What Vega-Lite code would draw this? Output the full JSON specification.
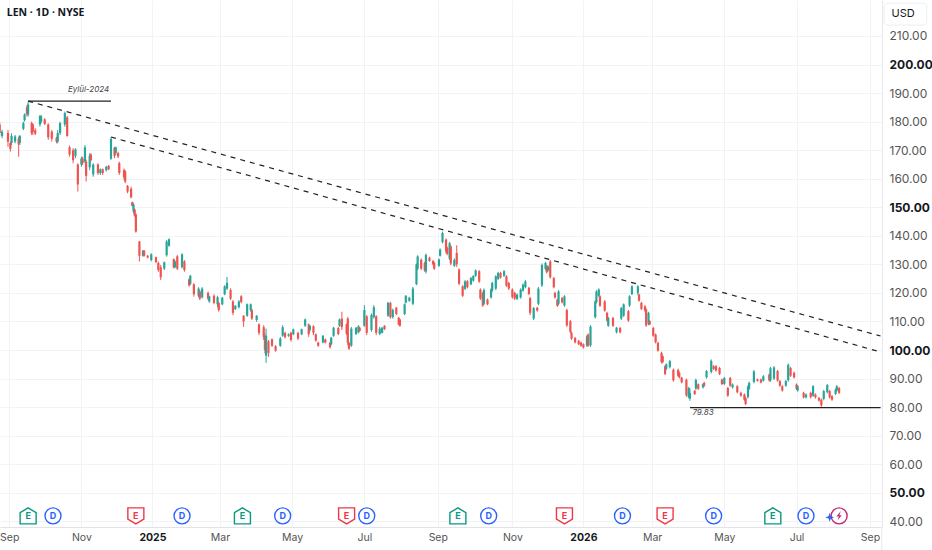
{"$schema":"https://vega.github.io/schema/vega-lite/v6.json","width":882,"height":527,"autosize":"none","padding":{"left":0,"top":0,"right":50,"bottom":23},"background":"white","view":{"stroke":null},
"config":{"font":"Inter"},
"datasets":{
"candles":[
{"d":"2024-08-27","o":179,"h":180,"l":174.7,"c":176},
{"d":"2024-08-29","o":175,"h":177.1,"l":174.2,"c":176.5},
{"d":"2024-09-03","o":176,"h":177.1,"l":171.2,"c":173},
{"d":"2024-09-05","o":172.5,"h":173,"l":169.5,"c":170.5},
{"d":"2024-09-06","o":172.5,"h":175.9,"l":171.8,"c":175},
{"d":"2024-09-09","o":173,"h":175.3,"l":172.4,"c":174.8},
{"d":"2024-09-12","o":174,"h":174.7,"l":167.7,"c":172},
{"d":"2024-09-13","o":172.5,"h":175.3,"l":171.8,"c":175},
{"d":"2024-09-16","o":177.5,"h":180,"l":177,"c":179.5},
{"d":"2024-09-17","o":180.5,"h":182.9,"l":180,"c":182.5},
{"d":"2024-09-19","o":185,"h":185.8,"l":181.8,"c":182.5},
{"d":"2024-09-20","o":182.5,"h":187,"l":181.8,"c":186},
{"d":"2024-09-23","o":179.5,"h":180,"l":175.3,"c":176},
{"d":"2024-09-24","o":179,"h":179.4,"l":175.3,"c":176.5},
{"d":"2024-09-26","o":177,"h":177.7,"l":175.3,"c":175.8},
{"d":"2024-09-30","o":179,"h":182.3,"l":178.2,"c":182},
{"d":"2024-10-01","o":180,"h":182.3,"l":179.4,"c":181.8},
{"d":"2024-10-04","o":180.8,"h":181.2,"l":178.8,"c":179.2},
{"d":"2024-10-07","o":179,"h":179.4,"l":173.6,"c":174.5},
{"d":"2024-10-10","o":176.5,"h":177.1,"l":173,"c":174},
{"d":"2024-10-14","o":174.3,"h":174.7,"l":172.4,"c":173},
{"d":"2024-10-15","o":173,"h":177.1,"l":172.4,"c":176},
{"d":"2024-10-17","o":176,"h":180,"l":175.3,"c":179.5},
{"d":"2024-10-21","o":179,"h":183.5,"l":178.2,"c":183},
{"d":"2024-10-23","o":181.5,"h":182,"l":174.7,"c":175},
{"d":"2024-10-25","o":171,"h":171.6,"l":167.7,"c":168.5},
{"d":"2024-10-28","o":170,"h":170.7,"l":165.4,"c":166.5},
{"d":"2024-10-30","o":168,"h":170.7,"l":167.2,"c":170.3},
{"d":"2024-11-01","o":165,"h":165.4,"l":155.5,"c":158},
{"d":"2024-11-04","o":165,"h":167.7,"l":164.2,"c":167},
{"d":"2024-11-05","o":167,"h":167.7,"l":164.8,"c":165.5},
{"d":"2024-11-07","o":166,"h":171.8,"l":165.4,"c":171},
{"d":"2024-11-08","o":166,"h":166.6,"l":159,"c":161},
{"d":"2024-11-11","o":164,"h":168.9,"l":163,"c":168},
{"d":"2024-11-12","o":168.5,"h":168.9,"l":166,"c":166.5},
{"d":"2024-11-14","o":161.5,"h":165.4,"l":160.7,"c":165},
{"d":"2024-11-18","o":165,"h":165.4,"l":161.3,"c":162},
{"d":"2024-11-20","o":162,"h":163.6,"l":161.3,"c":163.3},
{"d":"2024-11-22","o":163.3,"h":163.6,"l":161.3,"c":162},
{"d":"2024-11-25","o":163,"h":164.5,"l":162.5,"c":164.2},
{"d":"2024-11-27","o":164.5,"h":164.8,"l":163,"c":163.3},
{"d":"2024-11-29","o":167,"h":174.5,"l":166.6,"c":174},
{"d":"2024-12-02","o":170.8,"h":171.2,"l":167.2,"c":168},
{"d":"2024-12-03","o":169,"h":171.2,"l":168.3,"c":171},
{"d":"2024-12-05","o":169,"h":169.5,"l":167.2,"c":167.8},
{"d":"2024-12-06","o":165.5,"h":166,"l":161.3,"c":162},
{"d":"2024-12-10","o":163,"h":163.6,"l":159.6,"c":160.5},
{"d":"2024-12-11","o":162.5,"h":163,"l":158.4,"c":159},
{"d":"2024-12-13","o":157.5,"h":157.8,"l":154.9,"c":155.5},
{"d":"2024-12-16","o":156.5,"h":157.2,"l":153.1,"c":153.5},
{"d":"2024-12-17","o":151.8,"h":152,"l":150.2,"c":150.5},
{"d":"2024-12-18","o":148.5,"h":151.4,"l":147.9,"c":151},
{"d":"2024-12-19","o":149.2,"h":149.6,"l":146.7,"c":147},
{"d":"2024-12-20","o":147.5,"h":147.9,"l":141.1,"c":141.5},
{"d":"2024-12-23","o":138,"h":138.2,"l":131,"c":133},
{"d":"2024-12-26","o":133,"h":135,"l":132.7,"c":134.8},
{"d":"2024-12-27","o":134.8,"h":135,"l":132.7,"c":133},
{"d":"2024-12-30","o":133,"h":133.3,"l":132.1,"c":132.4},
{"d":"2025-01-02","o":131.5,"h":133.9,"l":131,"c":133.5},
{"d":"2025-01-06","o":132.5,"h":132.7,"l":130.4,"c":130.8},
{"d":"2025-01-08","o":130.5,"h":131,"l":127.4,"c":128},
{"d":"2025-01-10","o":129,"h":129.8,"l":124.5,"c":125.5},
{"d":"2025-01-13","o":128.5,"h":131,"l":128,"c":130.7},
{"d":"2025-01-15","o":133.2,"h":138.5,"l":132.7,"c":138},
{"d":"2025-01-17","o":136.5,"h":139.1,"l":136.2,"c":138.8},
{"d":"2025-01-21","o":131.8,"h":132.1,"l":128.6,"c":129},
{"d":"2025-01-22","o":129,"h":131.5,"l":128.6,"c":131},
{"d":"2025-01-24","o":132.8,"h":133.3,"l":128,"c":128.5},
{"d":"2025-01-28","o":129,"h":133.9,"l":128.6,"c":133.5},
{"d":"2025-01-30","o":131,"h":131.5,"l":127.4,"c":128},
{"d":"2025-02-03","o":124.8,"h":125.1,"l":122.2,"c":122.6},
{"d":"2025-02-04","o":123.2,"h":126.3,"l":122.8,"c":126},
{"d":"2025-02-07","o":123,"h":123.4,"l":118.7,"c":119.5},
{"d":"2025-02-11","o":119,"h":122,"l":118.5,"c":121.5},
{"d":"2025-02-12","o":120.5,"h":121,"l":117.5,"c":118},
{"d":"2025-02-14","o":118.5,"h":122,"l":118,"c":121.5},
{"d":"2025-02-19","o":120,"h":120.5,"l":117.5,"c":118},
{"d":"2025-02-20","o":117,"h":119,"l":116.5,"c":118.8},
{"d":"2025-02-24","o":119,"h":119.5,"l":116,"c":116.5},
{"d":"2025-02-27","o":116,"h":119,"l":115,"c":118.5},
{"d":"2025-02-28","o":116.5,"h":116.9,"l":113.4,"c":114},
{"d":"2025-03-03","o":116,"h":118.6,"l":115.7,"c":118.3},
{"d":"2025-03-05","o":119.5,"h":122.7,"l":119.2,"c":122.3},
{"d":"2025-03-07","o":121.5,"h":125.6,"l":121,"c":123.5},
{"d":"2025-03-10","o":121,"h":121.6,"l":117.5,"c":118},
{"d":"2025-03-12","o":117,"h":117.5,"l":112.2,"c":113},
{"d":"2025-03-14","o":114.3,"h":115.7,"l":114,"c":115.5},
{"d":"2025-03-17","o":115,"h":117.5,"l":114.5,"c":117},
{"d":"2025-03-19","o":118.8,"h":119.2,"l":116.3,"c":116.8},
{"d":"2025-03-21","o":112,"h":112.2,"l":108.1,"c":110},
{"d":"2025-03-24","o":112,"h":116.3,"l":111.6,"c":116},
{"d":"2025-03-27","o":114,"h":116.3,"l":113.4,"c":116},
{"d":"2025-03-28","o":114,"h":114.5,"l":110.5,"c":111},
{"d":"2025-04-01","o":110.5,"h":112.2,"l":109.9,"c":112},
{"d":"2025-04-03","o":109,"h":109.3,"l":105.2,"c":106},
{"d":"2025-04-07","o":108,"h":108.7,"l":103.5,"c":104.5},
{"d":"2025-04-08","o":105,"h":105.8,"l":98.8,"c":100},
{"d":"2025-04-09","o":98,"h":107.5,"l":95.5,"c":105},
{"d":"2025-04-11","o":103,"h":103.5,"l":97.6,"c":99},
{"d":"2025-04-14","o":103.8,"h":104,"l":101.1,"c":101.5},
{"d":"2025-04-17","o":101.3,"h":101.7,"l":99.4,"c":99.8},
{"d":"2025-04-21","o":101.5,"h":104.6,"l":101.1,"c":104},
{"d":"2025-04-23","o":105,"h":108.7,"l":104.6,"c":108},
{"d":"2025-04-25","o":106,"h":106.4,"l":104,"c":104.5},
{"d":"2025-04-28","o":105,"h":105.8,"l":104.6,"c":105.5},
{"d":"2025-04-30","o":106,"h":106.4,"l":102.9,"c":103.5},
{"d":"2025-05-02","o":105.5,"h":107.5,"l":105.2,"c":107.2},
{"d":"2025-05-06","o":106,"h":106.4,"l":103.5,"c":104},
{"d":"2025-05-09","o":105.5,"h":107.5,"l":105.2,"c":107.3},
{"d":"2025-05-12","o":108.5,"h":111,"l":108.1,"c":110.7},
{"d":"2025-05-15","o":109,"h":109.3,"l":104.6,"c":105.5},
{"d":"2025-05-16","o":107,"h":108.7,"l":106.4,"c":108.5},
{"d":"2025-05-19","o":108.3,"h":108.7,"l":105.2,"c":106},
{"d":"2025-05-21","o":105.5,"h":105.8,"l":102.9,"c":103.3},
{"d":"2025-05-23","o":102.6,"h":102.9,"l":101.1,"c":101.5},
{"d":"2025-05-27","o":102.7,"h":105.2,"l":102.3,"c":105},
{"d":"2025-05-29","o":103.7,"h":104,"l":102.3,"c":102.6},
{"d":"2025-06-02","o":102.5,"h":102.9,"l":100.5,"c":101},
{"d":"2025-06-03","o":102,"h":104.6,"l":101.7,"c":104.3},
{"d":"2025-06-05","o":105,"h":108.1,"l":104.6,"c":107.8},
{"d":"2025-06-09","o":107.7,"h":108.1,"l":105.2,"c":105.6},
{"d":"2025-06-10","o":108.5,"h":111,"l":108.1,"c":110.7},
{"d":"2025-06-12","o":111,"h":113.4,"l":107,"c":108},
{"d":"2025-06-16","o":109,"h":109.3,"l":105.2,"c":105.7},
{"d":"2025-06-17","o":111,"h":111.6,"l":101.7,"c":102.5},
{"d":"2025-06-18","o":102.5,"h":102.9,"l":100,"c":100.5},
{"d":"2025-06-20","o":101.5,"h":108.1,"l":101.1,"c":107.5},
{"d":"2025-06-24","o":105.6,"h":108.1,"l":105.2,"c":107.8},
{"d":"2025-06-26","o":106.2,"h":108.7,"l":105.8,"c":108.3},
{"d":"2025-06-27","o":107.8,"h":108.1,"l":106.4,"c":106.7},
{"d":"2025-07-01","o":108.5,"h":115.7,"l":108.1,"c":114},
{"d":"2025-07-03","o":111.8,"h":112.2,"l":105.2,"c":106},
{"d":"2025-07-07","o":107,"h":112.8,"l":106.4,"c":112.3},
{"d":"2025-07-09","o":111.5,"h":115.7,"l":111,"c":115},
{"d":"2025-07-11","o":111.8,"h":112.2,"l":105.2,"c":106},
{"d":"2025-07-14","o":105.6,"h":108.1,"l":105.2,"c":107.5},
{"d":"2025-07-16","o":106,"h":108.1,"l":105.8,"c":107.8},
{"d":"2025-07-18","o":108.5,"h":108.7,"l":107,"c":107.3},
{"d":"2025-07-21","o":112,"h":116.9,"l":111.6,"c":116.5},
{"d":"2025-07-23","o":116.5,"h":116.9,"l":111,"c":111.5},
{"d":"2025-07-25","o":111.5,"h":114.5,"l":111,"c":114},
{"d":"2025-07-28","o":114.8,"h":115.1,"l":112.2,"c":112.6},
{"d":"2025-07-30","o":111.3,"h":111.6,"l":108.7,"c":109},
{"d":"2025-07-31","o":110.7,"h":111,"l":108.1,"c":108.5},
{"d":"2025-08-04","o":112.6,"h":116.3,"l":112.2,"c":116},
{"d":"2025-08-05","o":116.6,"h":119.2,"l":116.3,"c":119},
{"d":"2025-08-08","o":117.2,"h":118.6,"l":116.9,"c":118.3},
{"d":"2025-08-11","o":116.2,"h":122.1,"l":115.7,"c":121.5},
{"d":"2025-08-14","o":123,"h":130.3,"l":122.7,"c":130},
{"d":"2025-08-15","o":128.5,"h":133.2,"l":128,"c":132.8},
{"d":"2025-08-18","o":131.6,"h":132.1,"l":128,"c":128.5},
{"d":"2025-08-21","o":130.5,"h":130.9,"l":127.4,"c":127.8},
{"d":"2025-08-22","o":127.5,"h":133.8,"l":126.8,"c":133.3},
{"d":"2025-08-25","o":132.3,"h":132.7,"l":130.9,"c":131.2},
{"d":"2025-08-28","o":131.2,"h":131.5,"l":129.7,"c":130},
{"d":"2025-08-29","o":130.5,"h":130.9,"l":128,"c":128.5},
{"d":"2025-09-02","o":129.5,"h":132.1,"l":129.1,"c":131.7},
{"d":"2025-09-03","o":133,"h":135.6,"l":132.7,"c":135.2},
{"d":"2025-09-05","o":137.8,"h":141.4,"l":137.3,"c":141},
{"d":"2025-09-08","o":138.7,"h":139.1,"l":133.8,"c":134.5},
{"d":"2025-09-09","o":135.8,"h":136.2,"l":133.2,"c":133.7},
{"d":"2025-09-11","o":132,"h":137.9,"l":131.5,"c":137.4},
{"d":"2025-09-12","o":136.3,"h":136.7,"l":129.7,"c":130.3},
{"d":"2025-09-15","o":129.5,"h":132.1,"l":129.1,"c":131.6},
{"d":"2025-09-17","o":134,"h":136.7,"l":129.1,"c":130},
{"d":"2025-09-19","o":128.2,"h":128.6,"l":122.7,"c":123.2},
{"d":"2025-09-22","o":122.3,"h":122.7,"l":118.6,"c":119},
{"d":"2025-09-24","o":121.4,"h":124.5,"l":121,"c":124},
{"d":"2025-09-26","o":124.1,"h":124.5,"l":121.6,"c":122},
{"d":"2025-09-29","o":123,"h":125.6,"l":122.7,"c":125.2},
{"d":"2025-10-01","o":124.3,"h":126.2,"l":123.9,"c":125.9},
{"d":"2025-10-03","o":126,"h":128.2,"l":125.6,"c":127.9},
{"d":"2025-10-06","o":127.6,"h":128,"l":123.5,"c":124},
{"d":"2025-10-07","o":121.2,"h":121.6,"l":117.5,"c":118},
{"d":"2025-10-09","o":120,"h":120.4,"l":115.1,"c":115.6},
{"d":"2025-10-10","o":116.2,"h":121.6,"l":115.7,"c":121},
{"d":"2025-10-13","o":117.7,"h":118,"l":115.7,"c":116},
{"d":"2025-10-16","o":118.4,"h":121.6,"l":118,"c":121.2},
{"d":"2025-10-17","o":120.8,"h":123.9,"l":120.4,"c":123.5},
{"d":"2025-10-20","o":121.5,"h":126.2,"l":121,"c":125.8},
{"d":"2025-10-22","o":124.9,"h":127.4,"l":124.5,"c":127},
{"d":"2025-10-24","o":127,"h":127.4,"l":125,"c":125.4},
{"d":"2025-10-27","o":126,"h":128,"l":125.6,"c":127.6},
{"d":"2025-10-29","o":125.8,"h":126.2,"l":122.1,"c":122.5},
{"d":"2025-10-31","o":123.5,"h":123.9,"l":121,"c":121.5},
{"d":"2025-11-03","o":121.2,"h":121.6,"l":118,"c":118.5},
{"d":"2025-11-05","o":120,"h":120.4,"l":117.5,"c":118},
{"d":"2025-11-07","o":117.9,"h":119.8,"l":117.5,"c":119.4},
{"d":"2025-11-10","o":118.4,"h":121.6,"l":118,"c":121.2},
{"d":"2025-11-12","o":120.8,"h":123.3,"l":120.4,"c":122.9},
{"d":"2025-11-14","o":122,"h":124.5,"l":121.6,"c":124},
{"d":"2025-11-17","o":121.8,"h":122.1,"l":119.2,"c":119.6},
{"d":"2025-11-18","o":118.2,"h":118.6,"l":112.2,"c":113},
{"d":"2025-11-21","o":111,"h":115.1,"l":110.5,"c":114.7},
{"d":"2025-11-24","o":114.8,"h":115.1,"l":113.4,"c":113.8},
{"d":"2025-11-25","o":116.2,"h":122.1,"l":115.7,"c":121.5},
{"d":"2025-11-28","o":122.6,"h":130.3,"l":122.1,"c":129.8},
{"d":"2025-12-01","o":128.4,"h":130.9,"l":128,"c":130.5},
{"d":"2025-12-02","o":129.3,"h":129.7,"l":126.8,"c":127.2},
{"d":"2025-12-03","o":127.8,"h":129.7,"l":127.4,"c":129.3},
{"d":"2025-12-05","o":131,"h":131.5,"l":125,"c":125.5},
{"d":"2025-12-08","o":125.2,"h":125.6,"l":121.6,"c":122},
{"d":"2025-12-09","o":120,"h":120.4,"l":118,"c":118.4},
{"d":"2025-12-11","o":117.6,"h":118,"l":115.1,"c":115.5},
{"d":"2025-12-12","o":116.2,"h":121,"l":115.7,"c":120.5},
{"d":"2025-12-15","o":118.2,"h":118.6,"l":116.3,"c":116.7},
{"d":"2025-12-17","o":115.6,"h":119.2,"l":115.1,"c":118.8},
{"d":"2025-12-19","o":114,"h":114.5,"l":108.1,"c":108.6},
{"d":"2025-12-22","o":110,"h":110.5,"l":105.8,"c":106.3},
{"d":"2025-12-23","o":106,"h":106.4,"l":103.5,"c":104},
{"d":"2025-12-26","o":104.2,"h":104.6,"l":102.3,"c":102.7},
{"d":"2025-12-29","o":103.2,"h":103.5,"l":101.7,"c":102},
{"d":"2025-12-31","o":102.6,"h":102.9,"l":101.1,"c":101.5},
{"d":"2026-01-02","o":102,"h":102.3,"l":100.5,"c":100.9},
{"d":"2026-01-05","o":101.5,"h":105.2,"l":101.1,"c":104.8},
{"d":"2026-01-06","o":105.4,"h":105.8,"l":101.1,"c":101.5},
{"d":"2026-01-08","o":101.6,"h":108.7,"l":101.1,"c":108.2},
{"d":"2026-01-12","o":111.5,"h":117.5,"l":111,"c":117},
{"d":"2026-01-13","o":116.8,"h":121,"l":116.3,"c":120.5},
{"d":"2026-01-15","o":119,"h":121.6,"l":118.6,"c":121.2},
{"d":"2026-01-16","o":118.8,"h":119.2,"l":115.1,"c":115.5},
{"d":"2026-01-20","o":117,"h":117.5,"l":113.4,"c":113.8},
{"d":"2026-01-22","o":113,"h":113.4,"l":109.9,"c":110.3},
{"d":"2026-01-23","o":108.5,"h":111.6,"l":108.1,"c":111.2},
{"d":"2026-01-27","o":111.2,"h":111.6,"l":108.1,"c":108.5},
{"d":"2026-01-30","o":106.2,"h":108.1,"l":105.8,"c":107.8},
{"d":"2026-02-02","o":107.7,"h":108.1,"l":105.8,"c":106.2},
{"d":"2026-02-03","o":111,"h":115.1,"l":110.5,"c":114.7},
{"d":"2026-02-05","o":112,"h":116.3,"l":111.6,"c":116},
{"d":"2026-02-09","o":113.6,"h":114,"l":109.9,"c":110.3},
{"d":"2026-02-10","o":115.6,"h":119.2,"l":115.1,"c":118.8},
{"d":"2026-02-12","o":119.6,"h":122.7,"l":119.2,"c":122.3},
{"d":"2026-02-17","o":120,"h":122.7,"l":119.2,"c":122.3},
{"d":"2026-02-18","o":119.4,"h":119.8,"l":116.9,"c":117.3},
{"d":"2026-02-20","o":116.5,"h":116.9,"l":114,"c":114.4},
{"d":"2026-02-23","o":115.3,"h":115.7,"l":113.4,"c":113.8},
{"d":"2026-02-24","o":114.2,"h":114.6,"l":108.1,"c":108.6},
{"d":"2026-02-26","o":109.2,"h":113.4,"l":108.7,"c":113},
{"d":"2026-02-27","o":110.1,"h":110.5,"l":108.7,"c":109},
{"d":"2026-03-02","o":107.7,"h":108.1,"l":104.6,"c":105},
{"d":"2026-03-04","o":105.4,"h":105.8,"l":102.3,"c":102.7},
{"d":"2026-03-06","o":102.5,"h":102.9,"l":99.4,"c":99.8},
{"d":"2026-03-09","o":99,"h":99.4,"l":95.3,"c":95.8},
{"d":"2026-03-10","o":97.8,"h":98.2,"l":95.3,"c":95.8},
{"d":"2026-03-12","o":94.3,"h":94.7,"l":91.2,"c":91.6},
{"d":"2026-03-13","o":93.4,"h":95.3,"l":93,"c":95},
{"d":"2026-03-16","o":94,"h":96.5,"l":93.5,"c":96.1},
{"d":"2026-03-19","o":93.1,"h":93.5,"l":88.9,"c":89.4},
{"d":"2026-03-23","o":93,"h":93.5,"l":90.6,"c":91},
{"d":"2026-03-24","o":92,"h":92.4,"l":90,"c":90.4},
{"d":"2026-03-26","o":90.3,"h":90.6,"l":88.3,"c":88.7},
{"d":"2026-03-30","o":89.6,"h":90,"l":83.6,"c":84.1},
{"d":"2026-04-01","o":83.5,"h":87.1,"l":83,"c":86.7},
{"d":"2026-04-02","o":83,"h":86.5,"l":82.2,"c":85},
{"d":"2026-04-06","o":85.7,"h":86,"l":84.2,"c":84.6},
{"d":"2026-04-07","o":86.5,"h":90,"l":86,"c":89.5},
{"d":"2026-04-09","o":88,"h":88.3,"l":86,"c":86.4},
{"d":"2026-04-13","o":86.9,"h":88.3,"l":86.5,"c":88},
{"d":"2026-04-14","o":88.5,"h":88.9,"l":87.1,"c":87.5},
{"d":"2026-04-16","o":90.4,"h":93,"l":90,"c":92.6},
{"d":"2026-04-20","o":92.3,"h":96.7,"l":91.8,"c":96.2},
{"d":"2026-04-22","o":94.3,"h":94.7,"l":93,"c":93.4},
{"d":"2026-04-24","o":94.3,"h":94.7,"l":92.4,"c":92.8},
{"d":"2026-04-27","o":93.7,"h":94.1,"l":91.2,"c":91.6},
{"d":"2026-04-29","o":89.6,"h":90,"l":87.7,"c":88.1},
{"d":"2026-05-01","o":88.1,"h":90.6,"l":87.7,"c":90.2},
{"d":"2026-05-04","o":86.7,"h":87.1,"l":83.6,"c":84},
{"d":"2026-05-06","o":90.2,"h":90.6,"l":87.1,"c":87.5},
{"d":"2026-05-08","o":86.9,"h":88.3,"l":86.5,"c":87.9},
{"d":"2026-05-12","o":87.3,"h":87.7,"l":84.8,"c":85.2},
{"d":"2026-05-15","o":85,"h":85.4,"l":83.6,"c":84},
{"d":"2026-05-18","o":84.4,"h":84.8,"l":82.2,"c":82.6},
{"d":"2026-05-19","o":83.2,"h":83.6,"l":80.7,"c":81.1},
{"d":"2026-05-21","o":83.5,"h":87.7,"l":83,"c":87.2},
{"d":"2026-05-22","o":86.4,"h":88.9,"l":86,"c":88.5},
{"d":"2026-05-26","o":88.8,"h":93,"l":88.3,"c":92.5},
{"d":"2026-05-29","o":89.7,"h":90,"l":88.9,"c":89.2},
{"d":"2026-06-01","o":89.7,"h":90,"l":88.3,"c":88.6},
{"d":"2026-06-03","o":89.3,"h":91.2,"l":88.9,"c":90.8},
{"d":"2026-06-08","o":91.4,"h":91.8,"l":88.9,"c":89.3},
{"d":"2026-06-09","o":89.4,"h":94.1,"l":88.9,"c":93.6},
{"d":"2026-06-12","o":90,"h":94.4,"l":89.5,"c":93.9},
{"d":"2026-06-15","o":92.6,"h":93,"l":88.9,"c":89.3},
{"d":"2026-06-17","o":89.1,"h":89.5,"l":87.1,"c":87.5},
{"d":"2026-06-19","o":87.3,"h":87.7,"l":85.4,"c":85.8},
{"d":"2026-06-22","o":87.5,"h":89.5,"l":87.1,"c":89.1},
{"d":"2026-06-24","o":89.4,"h":95.3,"l":88.9,"c":94.8},
{"d":"2026-06-26","o":93.7,"h":94.1,"l":90.6,"c":91},
{"d":"2026-06-29","o":92,"h":92.4,"l":90,"c":90.4},
{"d":"2026-07-01","o":87.9,"h":88.3,"l":86,"c":86.4},
{"d":"2026-07-02","o":85.8,"h":87.7,"l":85.4,"c":87.3},
{"d":"2026-07-07","o":85,"h":85.4,"l":83,"c":83.4},
{"d":"2026-07-09","o":83.4,"h":84.8,"l":83,"c":84.4},
{"d":"2026-07-13","o":85,"h":85.4,"l":83,"c":83.5},
{"d":"2026-07-15","o":84,"h":87.7,"l":83.6,"c":87.3},
{"d":"2026-07-17","o":84.4,"h":84.8,"l":83,"c":83.4},
{"d":"2026-07-20","o":83.2,"h":83.6,"l":81.9,"c":82.3},
{"d":"2026-07-22","o":82.6,"h":83,"l":80.1,"c":80.6},
{"d":"2026-07-24","o":82.9,"h":86,"l":82.4,"c":85.6},
{"d":"2026-07-27","o":85.2,"h":88.1,"l":84.8,"c":87.7},
{"d":"2026-07-29","o":85.6,"h":86,"l":83,"c":83.4},
{"d":"2026-07-31","o":83.8,"h":84.2,"l":82.2,"c":82.6},
{"d":"2026-08-03","o":84.6,"h":86.5,"l":84.2,"c":86.1},
{"d":"2026-08-04","o":85.8,"h":87.7,"l":85.4,"c":87.3},
{"d":"2026-08-06","o":86.7,"h":87.1,"l":84.6,"c":85}
],
"trend":[
{"k":"upper","d":"2024-09-20","p":187.2},{"k":"upper","d":"2026-09-10","p":104.9},
{"k":"lower","d":"2024-11-29","p":174.6},{"k":"lower","d":"2026-09-10","p":99.3}
],
"level":[
{"k":"sep","d":"2024-09-20","p":187.2},{"k":"sep","d":"2024-11-29","p":187.2},
{"k":"low","d":"2026-04-02","p":79.83},{"k":"low","d":"2026-09-10","p":79.83}
],
"events":[
{"d":"2024-09-20","p":41.9,"kind":"up","t":"E"},{"d":"2025-03-20","p":41.9,"kind":"up","t":"E"},{"d":"2025-09-18","p":41.9,"kind":"up","t":"E"},{"d":"2026-06-11","p":41.9,"kind":"up","t":"E"},
{"d":"2024-12-20","p":41.9,"kind":"down","t":"E"},{"d":"2025-06-16","p":41.9,"kind":"down","t":"E"},{"d":"2025-12-17","p":41.9,"kind":"down","t":"E"},{"d":"2026-03-12","p":41.9,"kind":"down","t":"E"},
{"d":"2024-10-11","p":41.9,"kind":"div","t":"D"},{"d":"2025-01-28","p":41.9,"kind":"div","t":"D"},{"d":"2025-04-23","p":41.9,"kind":"div","t":"D"},{"d":"2025-07-03","p":41.9,"kind":"div","t":"D"},{"d":"2025-10-14","p":41.9,"kind":"div","t":"D"},{"d":"2026-02-04","p":41.9,"kind":"div","t":"D"},{"d":"2026-04-22","p":41.9,"kind":"div","t":"D"},{"d":"2026-07-09","p":41.9,"kind":"div","t":"D"},
{"d":"2026-08-06","p":41.9,"kind":"news","t":""}
],
"bolt":[{"d":"2026-08-06","p":41.9}],
"star":[{"d":"2026-07-29","p":41.4}],
"notes":[
{"d":"2024-11-10","p":191.1,"t":"Eylül-2024"},{"d":"2026-04-13","p":78,"t":"79.83"}
],
"header":[{"d":"2024-09-02","p":218,"t":"LEN · 1D · NYSE"}],
"usd":[{"d":"2026-09-29","p":217.7,"t":"USD"}],
"box":[{"d":"2026-09-13","d2":"2026-10-19","p":221.5,"p2":213.8}],
"edge":[{"d":"2026-09-11","p":38,"p2":30}]
},
"encoding":{
"x":{"field":"d","type":"temporal","title":null,
"scale":{"type":"utc","domain":[{"year":2024,"month":8,"date":27,"hours":6,"utc":true},{"year":2026,"month":9,"date":11,"hours":5,"utc":true}]},
"axis":{"orient":"bottom","title":null,"values":[{"year":2024,"month":9,"date":4,"utc":true},{"year":2024,"month":11,"date":4,"utc":true},{"year":2025,"month":1,"date":3,"utc":true},{"year":2025,"month":3,"date":1,"utc":true},{"year":2025,"month":5,"date":1,"utc":true},{"year":2025,"month":7,"date":1,"utc":true},{"year":2025,"month":9,"date":1,"utc":true},{"year":2025,"month":11,"date":3,"utc":true},{"year":2026,"month":1,"date":2,"utc":true},{"year":2026,"month":3,"date":1,"utc":true},{"year":2026,"month":5,"date":1,"utc":true},{"year":2026,"month":7,"date":1,"utc":true},{"year":2026,"month":9,"date":1,"utc":true}],
"labelExpr":"utcmonth(datum.value)==0?''+utcyear(datum.value):utcFormat(datum.value,'%b')",
"labelFontWeight":{"condition":{"test":"utcmonth(datum.value)==0","value":"bold"},"value":"normal"},
"labelColor":{"condition":{"test":"utcmonth(datum.value)==0","value":"#131722"},"value":"#555"},
"labelFont":"Inter","labelFontSize":10.5,"labelPadding":5,"labelOverlap":false,"labelBound":false,"labelFlush":false,
"ticks":false,"grid":true,"gridColor":"#f2f3f5","gridWidth":1,"domain":true,"domainColor":"#e0e3eb"}},
"y":{"field":"p","type":"quantitative","title":null,
"scale":{"domain":[38,222.6],"nice":false,"zero":false},
"axis":{"orient":"right","title":null,"values":[40,50,60,70,80,90,100,110,120,130,140,150,160,170,180,190,200,210],"format":".2f",
"labelFontWeight":{"condition":{"test":"datum.value%50==0","value":"bold"},"value":"normal"},
"labelColor":{"condition":{"test":"datum.value%50==0","value":"#131722"},"value":"#555"},
"labelFont":"Inter","labelFontSize":12,"labelPadding":7,"labelOverlap":false,"labelBound":false,"labelFlush":false,
"ticks":false,"grid":true,"gridColor":"#f2f3f5","gridWidth":1,"domain":true,"domainColor":"#e6e8ee"}}
},
"layer":[
{"data":{"name":"edge"},"mark":{"type":"rule","color":"#e6e8ee"},"encoding":{"y2":{"field":"p2"}}},
{"data":{"name":"candles"},"mark":{"type":"rule","strokeWidth":1},"encoding":{"y":{"field":"l","type":"quantitative"},"y2":{"field":"h"},
"color":{"condition":{"test":"datum.c>=datum.o","value":"#26a69a"},"value":"#ef5350"}}},
{"data":{"name":"candles"},"mark":{"type":"rule","strokeWidth":2.2},"encoding":{"y":{"field":"o","type":"quantitative"},"y2":{"field":"c"},
"color":{"condition":{"test":"datum.c>=datum.o","value":"#26a69a"},"value":"#ef5350"}}},
{"data":{"name":"trend"},"mark":{"type":"line","color":"#222","strokeWidth":1.2,"strokeDash":[5,5]},"encoding":{"detail":{"field":"k"}}},
{"data":{"name":"level"},"mark":{"type":"line","color":"#222","strokeWidth":1.3},"encoding":{"detail":{"field":"k"}}},
{"data":{"name":"notes"},"mark":{"type":"text","fontStyle":"italic","fontSize":8,"color":"#444"},"encoding":{"text":{"field":"t"}}},
{"data":{"name":"header"},"mark":{"type":"text","align":"left","fontWeight":"bold","fontSize":10.5,"font":"Noto Sans","color":"#131722"},"encoding":{"text":{"field":"t"}}},
{"data":{"name":"box"},"mark":{"type":"rect","fill":"white","stroke":"#eceef2","cornerRadius":4},"encoding":{"x2":{"field":"d2"},"y2":{"field":"p2"}}},
{"data":{"name":"usd"},"mark":{"type":"text","fontSize":11,"color":"#131722"},"encoding":{"text":{"field":"t"}}},
{"data":{"name":"events"},"mark":{"type":"point","filled":false,"fill":"white","fillOpacity":1,"opacity":1,"size":256,"strokeWidth":1.4},
"encoding":{"shape":{"field":"kind","type":"nominal","legend":null,"scale":{"domain":["up","down","div","news"],"range":["M-1,-0.4L0,-1L1,-0.4L1,1L-1,1Z","M-1,-1L1,-1L1,0.4L0,1L-1,0.4Z","circle","circle"]}},
"color":{"field":"kind","type":"nominal","legend":null,"scale":{"domain":["up","down","div","news"],"range":["#089981","#f23645","#2962ff","#c2286e"]}}}},
{"data":{"name":"events"},"mark":{"type":"text","fontSize":9,"fontWeight":"bold"},
"encoding":{"text":{"field":"t"},"color":{"field":"kind","type":"nominal","legend":null,"scale":{"domain":["up","down","div","news"],"range":["#089981","#f23645","#2962ff","#c2286e"]}}}},
{"data":{"name":"bolt"},"mark":{"type":"point","filled":true,"opacity":1,"size":90,"color":"#c2286e","shape":"M0.35,-1L-0.55,0.15L-0.05,0.15L-0.35,1L0.55,-0.15L0.05,-0.15Z"}},
{"data":{"name":"star"},"mark":{"type":"point","filled":true,"opacity":1,"size":80,"color":"#2962ff","shape":"M0,-1L0.25,-0.25L1,0L0.25,0.25L0,1L-0.25,0.25L-1,0L-0.25,-0.25Z"}}
]}
